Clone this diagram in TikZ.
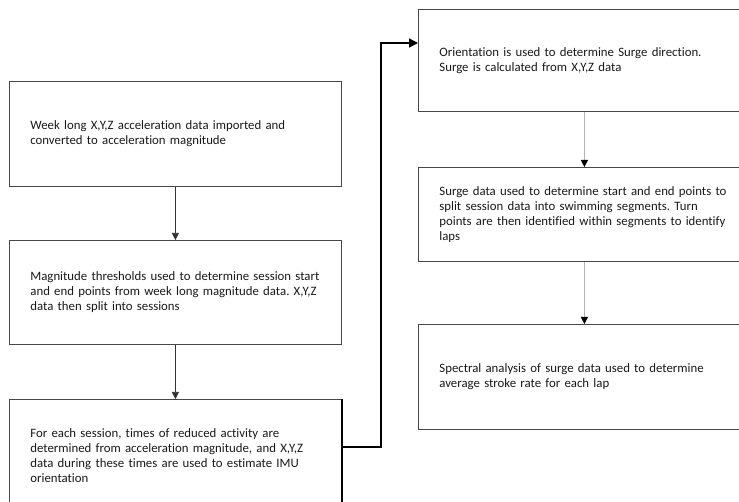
\documentclass[tikz,border=0pt]{standalone}
\usepackage{fontspec}
\setmainfont{Carlito}[Ligatures={NoCommon,NoRare,NoDiscretionary}]
\usetikzlibrary{arrows.meta,calc}
\frenchspacing
\begin{document}
\begin{tikzpicture}[x=1pt,y=-1pt,
  box/.style={draw=black!72, line width=0.8pt, minimum width=332pt, inner sep=0pt,
    anchor=north west, text width=290pt, align=left, text=black!90,
    font=\fontsize{12.8}{15}\selectfont},
  arrL/.style={draw=black!80, line width=0.7pt, -{Triangle[width=7pt,length=7pt]}},
  arrR/.style={draw=black!30, line width=1pt, -{Triangle[width=7pt,length=7pt,color=black,fill=black]}},
  link/.style={draw=black, line width=1.4pt, -{Triangle[width=9pt,length=9pt]}}]
\useasboundingbox (0,0) rectangle (739,502);
\clip (0,0) rectangle (739,502);
\fill[white] (0,0) rectangle (739,502);
\node[box, minimum height=105pt] (A) at (9,81)
  {Week long X,Y,Z acceleration data imported and\\converted to acceleration magnitude};
\node[box, minimum height=104pt] (B) at (9,240)
  {Magnitude thresholds used to determine session start\\and end points from week long magnitude data. X,Y,Z\\data then split into sessions};
\node[box, minimum height=112pt] (C) at (9,399)
  {For each session, times of reduced activity are\\determined from acceleration magnitude, and X,Y,Z\\data during these times are used to estimate IMU\\orientation};
\node[box, minimum height=102pt] (D) at (418,9)
  {Orientation is used to determine Surge direction.\\Surge is calculated from X,Y,Z data};
\node[box, minimum height=94pt] (E) at (418,167)
  {Surge data used to determine start and end points to\\split session data into swimming segments. Turn\\points are then identified within segments to identify\\laps};
\node[box, minimum height=105pt] (F) at (418,324)
  {Spectral analysis of surge data used to determine\\average stroke rate for each lap};
\draw[line width=1.4pt] (C.north east) -- (C.south east);
\draw[arrL] (A.south) -- (B.north);
\draw[arrL] (B.south) -- (C.north);
\draw[arrR] (D.south) -- (E.north);
\draw[arrR] (E.south) -- (F.north);
\coordinate (c1) at (C.north east |- 0,447);
\coordinate (d1) at (D.north west |- 0,43);
\draw[link] (c1) -- (381,447) |- (d1);
\end{tikzpicture}
\end{document}
